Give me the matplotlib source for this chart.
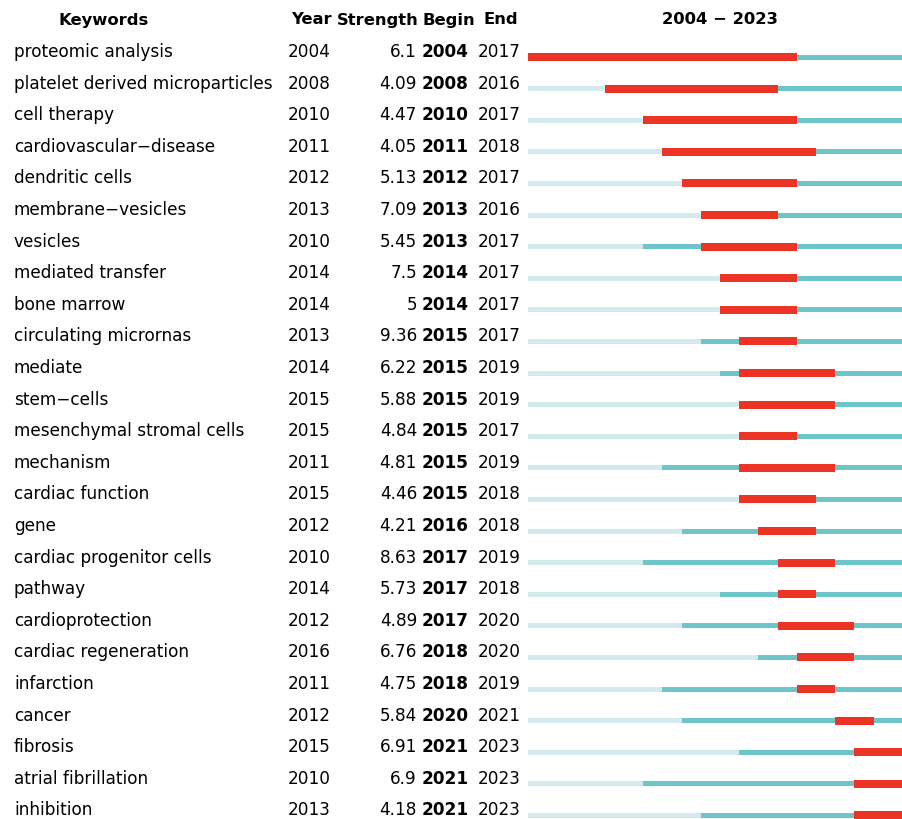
import matplotlib.pyplot as plt

keywords = ["proteomic analysis", "platelet derived microparticles", "cell therapy",
            "cardiovascular\u2212disease", "dendritic cells", "membrane\u2212vesicles",
            "vesicles", "mediated transfer", "bone marrow", "circulating micrornas",
            "mediate", "stem\u2212cells", "mesenchymal stromal cells", "mechanism",
            "cardiac function", "gene", "cardiac progenitor cells", "pathway",
            "cardioprotection", "cardiac regeneration", "infarction", "cancer",
            "fibrosis", "atrial fibrillation", "inhibition"]
year = [2004, 2008, 2010, 2011, 2012, 2013, 2010, 2014, 2014, 2013, 2014, 2015, 2015,
        2011, 2015, 2012, 2010, 2014, 2012, 2016, 2011, 2012, 2015, 2010, 2013]
strength = ["6.1", "4.09", "4.47", "4.05", "5.13", "7.09", "5.45", "7.5", "5", "9.36",
            "6.22", "5.88", "4.84", "4.81", "4.46", "4.21", "8.63", "5.73", "4.89",
            "6.76", "4.75", "5.84", "6.91", "6.9", "4.18"]
begin = [2004, 2008, 2010, 2011, 2012, 2013, 2013, 2014, 2014, 2015, 2015, 2015, 2015,
         2015, 2015, 2016, 2017, 2017, 2017, 2018, 2018, 2020, 2021, 2021, 2021]
end = [2017, 2016, 2017, 2018, 2017, 2016, 2017, 2017, 2017, 2017, 2019, 2019, 2017,
       2019, 2018, 2018, 2019, 2018, 2020, 2020, 2019, 2021, 2023, 2023, 2023]
first_year, last_year = 2004, 2023

plt.rcParams['font.family'] = ['DejaVu Sans']

W, H = 903, 819
fig = plt.figure(figsize=(W / 100, H / 100), dpi=100)

# text layer in pixel coords
ax = fig.add_axes([0, 0, 1, 1])
ax.set_xlim(0, W)
ax.set_ylim(H, 0)
ax.axis('off')

fs = 12.2
hfs = 11.8
row_h = 31.6
y0 = 52

ax.text(104, 20, "Keywords", fontsize=hfs, fontweight='bold', ha='center', va='center')
ax.text(311, 20, "Year", fontsize=hfs, fontweight='bold', ha='center', va='center')
ax.text(378, 20, "Strength", fontsize=hfs, fontweight='bold', ha='center', va='center')
ax.text(449, 20, "Begin", fontsize=hfs, fontweight='bold', ha='center', va='center')
ax.text(501, 20, "End", fontsize=hfs, fontweight='bold', ha='center', va='center')
ax.text(720, 20, f"{first_year} \u2212 {last_year}", fontsize=hfs, fontweight='bold',
        ha='center', va='center')

for i, kw in enumerate(keywords):
    y = y0 + i * row_h
    ax.text(14, y, kw, fontsize=fs, ha='left', va='center')
    ax.text(288, y, str(year[i]), fontsize=fs, ha='left', va='center')
    ax.text(417, y, strength[i], fontsize=fs, ha='right', va='center')
    ax.text(422, y, str(begin[i]), fontsize=fs, fontweight='bold', ha='left', va='center')
    ax.text(478, y, str(end[i]), fontsize=fs, ha='left', va='center')

# bar layer in year coords
span = last_year - first_year + 1
bx = fig.add_axes([528 / W, 0, 19.2 * span / W, 1])
bx.set_xlim(first_year, last_year + 1)
bx.set_ylim(H, 0)
bx.axis('off')

ys = [y0 + 5 + i * row_h for i in range(len(keywords))]
for i in range(len(keywords)):
    bx.barh(ys[i], year[i] - first_year, left=first_year, height=5, color='#d3e9ee')
    bx.barh(ys[i], last_year + 1 - year[i], left=year[i], height=5, color='#6cc5c8')
    bx.barh(ys[i], end[i] + 1 - begin[i], left=begin[i], height=8, color='#ec3324')

fig.savefig("out.png", dpi=100)
